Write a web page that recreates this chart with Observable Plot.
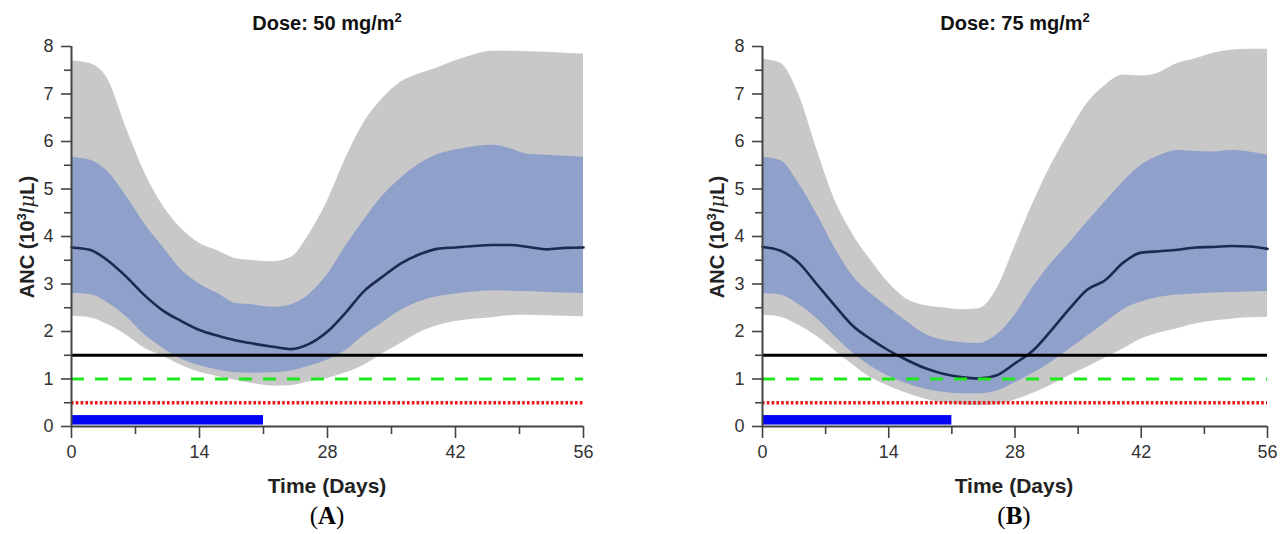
<!DOCTYPE html>
<html>
<head>
<meta charset="utf-8">
<script src="https://cdn.jsdelivr.net/npm/d3@7"></script>
<script src="https://cdn.jsdelivr.net/npm/@observablehq/plot@0.6"></script>
<style>
  html, body { margin: 0; padding: 0; background: #fff; }
  #wrap { position: relative; width: 1286px; height: 534px; overflow: hidden; font-family: "Liberation Sans", Arial, sans-serif; }
  .panel { position: absolute; top: 0; }
  .title { position: absolute; font-weight: bold; font-size: 20px; color: #111; transform: translateX(-50%); white-space: nowrap; }
  .title sup { font-size: 13px; vertical-align: 8px; line-height: 0; }
  .ylab { position: absolute; font-weight: bold; font-size: 20px; color: #222; white-space: nowrap; transform: translate(-50%, -50%) rotate(-90deg); }
  .ylab sup { font-size: 13px; vertical-align: 8px; line-height: 0; }
  .ylab i { font-family: "DejaVu Serif", serif; font-weight: normal; font-style: italic; }
  .xlab { position: absolute; font-weight: bold; font-size: 21px; color: #222; transform: translate(-50%, -50%); white-space: nowrap; }
  .cap { position: absolute; font-family: "Liberation Serif", "DejaVu Serif", serif; font-size: 25px; color: #000; transform: translate(-50%, -50%); white-space: nowrap; }
  .cap b { font-weight: bold; }
</style>
</head>
<body>
<div id="wrap"></div>
<script>
// ---- data ----
const days = [0,2,4,6,8,10,12,14,16,18,20,22,24,26,28,30,32,34,36,38,40,42,44,46,48,50,52,54,56];

// Panel A: Dose 50 mg/m2
const a_p95 = [7.70,7.64,7.30,6.28,5.35,4.65,4.17,3.86,3.70,3.53,3.49,3.47,3.56,4.05,4.75,5.65,6.40,6.90,7.25,7.42,7.55,7.70,7.82,7.90,7.90,7.89,7.88,7.86,7.84];
const a_p75 = [5.67,5.61,5.36,4.85,4.27,3.78,3.30,3.00,2.80,2.59,2.56,2.51,2.56,2.78,3.20,3.80,4.35,4.85,5.22,5.52,5.72,5.82,5.89,5.92,5.85,5.73,5.71,5.69,5.67];
const a_med = [3.77,3.72,3.49,3.15,2.76,2.44,2.22,2.03,1.91,1.81,1.74,1.68,1.63,1.74,2.00,2.40,2.85,3.15,3.43,3.62,3.74,3.77,3.80,3.82,3.82,3.78,3.73,3.76,3.77];
const a_p25 = [2.80,2.78,2.60,2.31,1.93,1.65,1.42,1.28,1.19,1.13,1.12,1.13,1.17,1.27,1.40,1.60,1.92,2.18,2.44,2.62,2.73,2.79,2.83,2.86,2.85,2.84,2.82,2.81,2.80];
const a_p05 = [2.32,2.29,2.14,1.92,1.65,1.48,1.29,1.14,1.05,0.97,0.90,0.85,0.86,0.94,1.01,1.13,1.29,1.53,1.75,1.97,2.12,2.21,2.26,2.29,2.33,2.34,2.33,2.32,2.31];

// Panel B: Dose 75 mg/m2
const b_p95 = [7.73,7.65,7.00,5.85,4.78,4.05,3.50,3.02,2.68,2.55,2.50,2.46,2.48,2.90,3.80,4.70,5.50,6.18,6.80,7.18,7.40,7.38,7.45,7.64,7.74,7.86,7.92,7.94,7.94];
const b_p75 = [5.67,5.60,5.12,4.48,3.77,3.17,2.80,2.50,2.21,1.95,1.82,1.77,1.75,1.93,2.35,2.93,3.43,3.86,4.30,4.73,5.15,5.50,5.70,5.81,5.79,5.78,5.81,5.78,5.71];
const b_med = [3.78,3.70,3.45,3.00,2.55,2.12,1.84,1.60,1.40,1.23,1.11,1.04,1.01,1.08,1.33,1.60,2.02,2.47,2.88,3.08,3.45,3.66,3.69,3.72,3.77,3.78,3.80,3.79,3.74];
const b_p25 = [2.80,2.77,2.57,2.28,1.90,1.55,1.27,1.06,0.90,0.79,0.72,0.69,0.69,0.75,0.92,1.12,1.35,1.62,1.90,2.18,2.46,2.62,2.72,2.77,2.79,2.81,2.82,2.83,2.84];
const b_p05 = [2.34,2.30,2.13,1.90,1.60,1.30,1.03,0.85,0.70,0.58,0.50,0.46,0.44,0.46,0.56,0.70,0.87,1.07,1.25,1.44,1.63,1.84,1.97,2.06,2.16,2.22,2.26,2.29,2.30];

// thresholds and dosing bar
const thrSolid = [1.5];
const thrDashed = [1.0];
const thrDotted = [0.5];
const dosing = [{start: 0, end: 21, low: 0.03, high: 0.23}];

// ticks
const xMajor = [0, 14, 28, 42, 56];
const xMinor = [7, 21, 35, 49];
const yMajor = [0, 1, 2, 3, 4, 5, 6, 7, 8];
const yMinor = [0.5, 1.5, 2.5, 3.5, 4.5, 5.5, 6.5, 7.5];

const panels = [
  {key: "A", dose: "50", p95: a_p95, p75: a_p75, med: a_med, p25: a_p25, p05: a_p05,
   left: 0, mL: 71, mR: 60, titleX: 327, ylabX: 27, xlabX: 327},
  {key: "B", dose: "75", p95: b_p95, p75: b_p75, med: b_med, p25: b_p25, p05: b_p05,
   left: 643, mL: 119, mR: 19, titleX: 1015, ylabX: 717, xlabX: 1014}
];

const wrap = document.getElementById("wrap");
const axisColor = "#444";

for (const p of panels) {
  const rows = days.map((d, i) => ({day: d, p95: p.p95[i], p75: p.p75[i], med: p.med[i], p25: p.p25[i], p05: p.p05[i]}));
  const chart = Plot.plot({
    width: 643,
    height: 470,
    marginLeft: p.mL,
    marginRight: p.mR,
    marginTop: 46,
    marginBottom: 44,
    style: {fontFamily: "'Liberation Sans Narrow', 'Liberation Sans', Arial, sans-serif", fontSize: "18px", color: "#333", background: "transparent", overflow: "visible"},
    x: {domain: [0, 56], axis: null},
    y: {domain: [0, 8], axis: null},
    marks: [
      Plot.areaY(rows, {x: "day", y1: "p05", y2: "p95", fill: "#c8c8c8", curve: "monotone-x"}),
      Plot.areaY(rows, {x: "day", y1: "p25", y2: "p75", fill: "#8fa0ca", curve: "monotone-x"}),
      Plot.line(rows, {x: "day", y: "med", stroke: "#1b2a4e", strokeWidth: 2.6, curve: "monotone-x"}),
      Plot.ruleY(thrSolid, {stroke: "#000", strokeWidth: 3}),
      Plot.ruleY(thrDashed, {stroke: "#1de81d", strokeWidth: 3, strokeDasharray: "13,11"}),
      Plot.ruleY(thrDotted, {stroke: "#e8161b", strokeWidth: 3.4, strokeDasharray: "2.6,2.2"}),
      Plot.rectY(dosing, {x1: "start", x2: "end", y1: "low", y2: "high", fill: "#0505f5"}),
      Plot.axisY({ticks: yMajor, tickSize: 10, tickPadding: 8, stroke: axisColor, strokeWidth: 1.6, label: null}),
      Plot.axisY({ticks: yMinor, tickSize: 7, tickFormat: () => "", stroke: axisColor, strokeWidth: 1.6, label: null}),
      Plot.axisX({ticks: xMajor, tickSize: 12, tickPadding: 7, stroke: axisColor, strokeWidth: 1.6, label: null}),
      Plot.axisX({ticks: xMinor, tickSize: 8, tickFormat: () => "", stroke: axisColor, strokeWidth: 1.6, label: null}),
      Plot.ruleX([0], {stroke: axisColor, strokeWidth: 2}),
      Plot.ruleY([0], {stroke: axisColor, strokeWidth: 2})
    ]
  });
  const holder = document.createElement("div");
  holder.className = "panel";
  holder.style.left = p.left + "px";
  holder.appendChild(chart);
  wrap.appendChild(holder);

  const t = document.createElement("div");
  t.className = "title";
  t.style.left = p.titleX + "px";
  t.style.top = "12px";
  t.innerHTML = "Dose: " + p.dose + " mg/m<sup>2</sup>";
  wrap.appendChild(t);

  const yl = document.createElement("div");
  yl.className = "ylab";
  yl.style.left = p.ylabX + "px";
  yl.style.top = "237px";
  yl.innerHTML = "ANC (10<sup>3</sup>/<i>μ</i>L)";
  wrap.appendChild(yl);

  const xl = document.createElement("div");
  xl.className = "xlab";
  xl.style.left = p.xlabX + "px";
  xl.style.top = "486px";
  xl.textContent = "Time (Days)";
  wrap.appendChild(xl);

  const c = document.createElement("div");
  c.className = "cap";
  c.style.left = p.xlabX + "px";
  c.style.top = "516px";
  c.innerHTML = "(<b>" + p.key + "</b>)";
  wrap.appendChild(c);
}
</script>
</body>
</html>
